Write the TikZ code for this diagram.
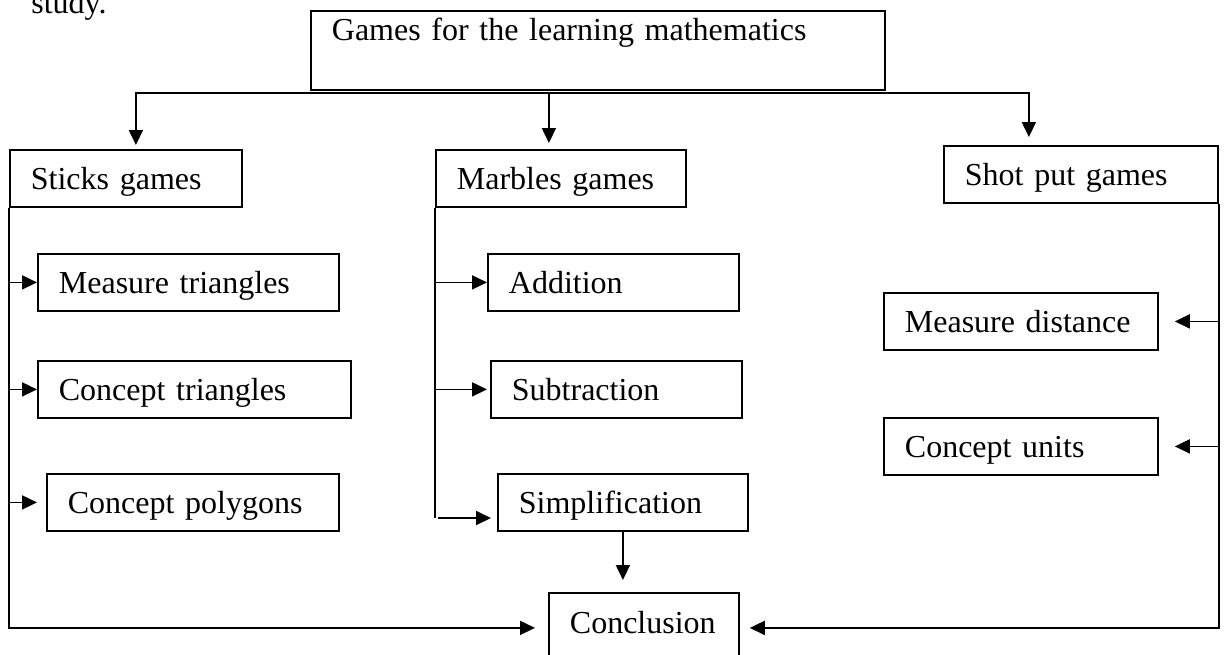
\documentclass[tikz,border=0pt]{standalone}
\usepackage{fontspec}
\setmainfont{Liberation Serif}
\usetikzlibrary{arrows.meta,calc}

\tikzset{
  gbox/.style={draw, line width=0.9pt, anchor=north west, inner xsep=10.5pt, inner ysep=0pt, align=left,
    font=\fontsize{16}{19}\selectfont, text height=12pt, text depth=0.5pt, minimum height=28.5pt},
  arr/.style={line width=0.9pt, -{Triangle[length=7.5pt,width=7pt]}},
  link/.style={line width=0.9pt}
}

\begin{document}
\begin{tikzpicture}[x=0.5pt,y=-0.5pt]
 \useasboundingbox (0,0) rectangle (1224,654);
 \node[anchor=base west, inner sep=0pt, font=\fontsize{16}{19}\selectfont] (study) at (31,13) {study.};
 \node[gbox, text width=266pt, minimum height=39.5pt, text depth=21.5pt] (title) at (310,10) {Games for the learning mathematics};
 \foreach \n/\x/\y/\w/\t in {sticks/9/149/95/Sticks games, marbles/435/149/104/Marbles games, shot/943/145/116/Shot put games,
   meastri/37/253/129.5/Measure triangles, conctri/37/360/135.5/Concept triangles, concpoly/46/473/125/Concept polygons,
   add/487/253/104.5/Addition, sub/490/360/104.5/Subtraction, simp/497/473/104/Simplification,
   measdist/883/292/116/Measure distance, concunit/883/417/116/Concept units}
   \node[gbox, text width=\w pt] (\n) at (\x,\y) {\t};
 \node[gbox, text width=74pt, minimum height=35pt, text depth=6pt] (concl) at (548,592) {Conclusion};
 % top branches
 \draw[arr, shorten >=2pt] ([yshift=-1pt]title.south) -| ([xshift=5pt]sticks.north);
 \draw[arr, shorten >=3pt] ([yshift=-1pt]title.south) -| ([xshift=-6pt]marbles.north);
 \draw[arr, shorten >=4pt] ([yshift=-1pt]title.south) -| ([xshift=-26pt]shot.north);
 % sticks spine
 \draw[arr, shorten >=6.5pt] (sticks.south west) |- (concl.west);
 \draw[arr] (sticks.south west |- meastri.west) -- (meastri.west);
 \draw[arr] (sticks.south west |- conctri.west) -- (conctri.west);
 \draw[arr, shorten >=4.5pt] (sticks.south west |- concpoly.west) -- (concpoly.west);
 % marbles spine
 \coordinate (mend) at (marbles.south west |- 0,518);
 \draw[link] (marbles.south west) -- (mend);
 \draw[arr] (marbles.south west |- add.west) -- (add.west);
 \draw[arr, shorten >=1.5pt] (marbles.south west |- sub.west) -- (sub.west);
 \draw[arr, shorten >=3pt] ([xshift=1.5pt]mend) -- (simp.west |- mend);
 \draw[arr, shorten >=6pt] (simp.south) -- (simp.south |- concl.north);
 % shot put spine
 \draw[arr, shorten >=5pt] (shot.south east) |- (concl.east);
 \draw[arr, shorten >=8pt] (shot.south east |- measdist.east) -- (measdist.east);
 \draw[arr, shorten >=8pt] (shot.south east |- concunit.east) -- (concunit.east);
\end{tikzpicture}
\end{document}
